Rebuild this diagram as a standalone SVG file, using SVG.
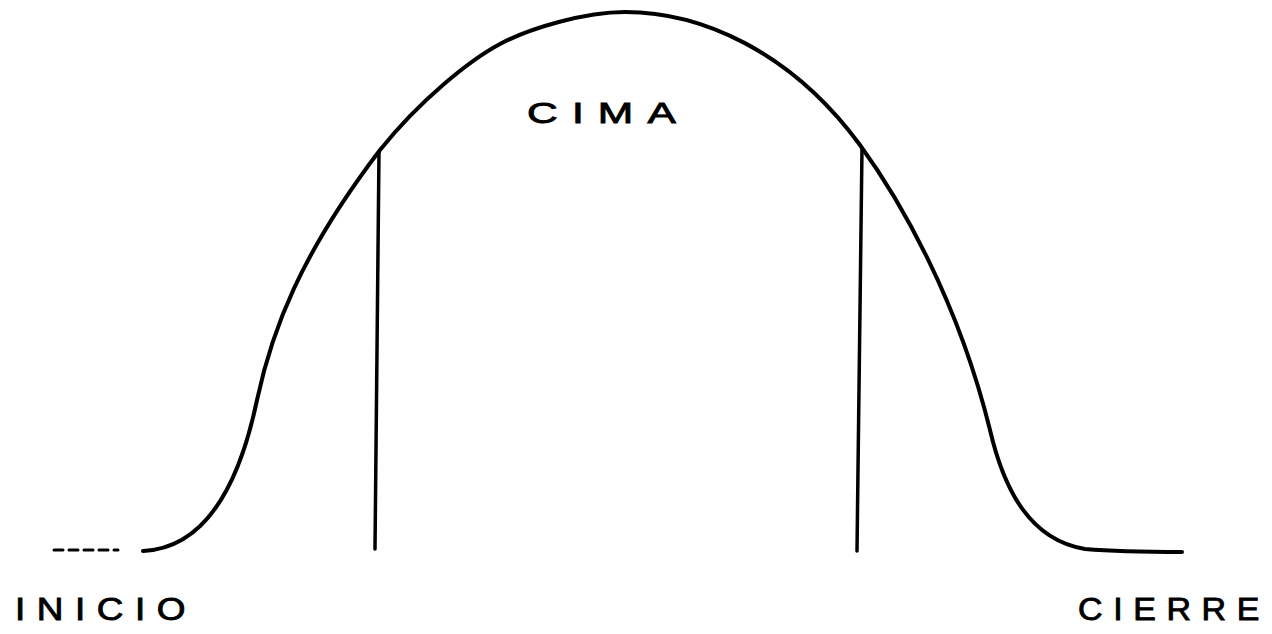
<svg xmlns="http://www.w3.org/2000/svg" width="1272" height="634" viewBox="0 0 1272 634">
<style>
.ln{fill:none;stroke:#000;stroke-linecap:round;stroke-linejoin:round}
.lbl{font-family:"Liberation Sans",Arial,sans-serif;fill:#000;stroke:#000;stroke-width:0.9;letter-spacing:10px}
</style>
<rect width="1272" height="634" fill="#fff"/>
<g id="connectors">
<path id="curve" class="ln" stroke-width="4" d="M143,551 C185,549 232,520 257,400 C272,330 300,255 380,150 C420,100 470,60 500,44 C530,28 585,12 625,12 C700,12 790,50 860,145 C900,200 958,300 990,430 C1004,490 1030,540 1085,549 C1120,552 1150,552 1182,552"/>
<path id="lead-in" class="ln" stroke-width="3" stroke-dasharray="9 6" d="M54,550 L118,550"/>
<path id="left-divider" class="ln" stroke-width="3.5" d="M379,152 L375,549"/>
<path id="right-divider" class="ln" stroke-width="3.5" d="M862,148 L857,551"/>
</g>
<g id="label-cima"><text class="lbl" x="527" y="123" font-size="30" textLength="163" lengthAdjust="spacingAndGlyphs">CIMA</text></g>
<g id="label-inicio"><text class="lbl" x="15" y="620" font-size="32" textLength="182" lengthAdjust="spacingAndGlyphs">INICIO</text></g>
<g id="label-cierre"><text class="lbl" x="1078" y="620" font-size="32" textLength="192" lengthAdjust="spacingAndGlyphs">CIERRE</text></g>
</svg>
